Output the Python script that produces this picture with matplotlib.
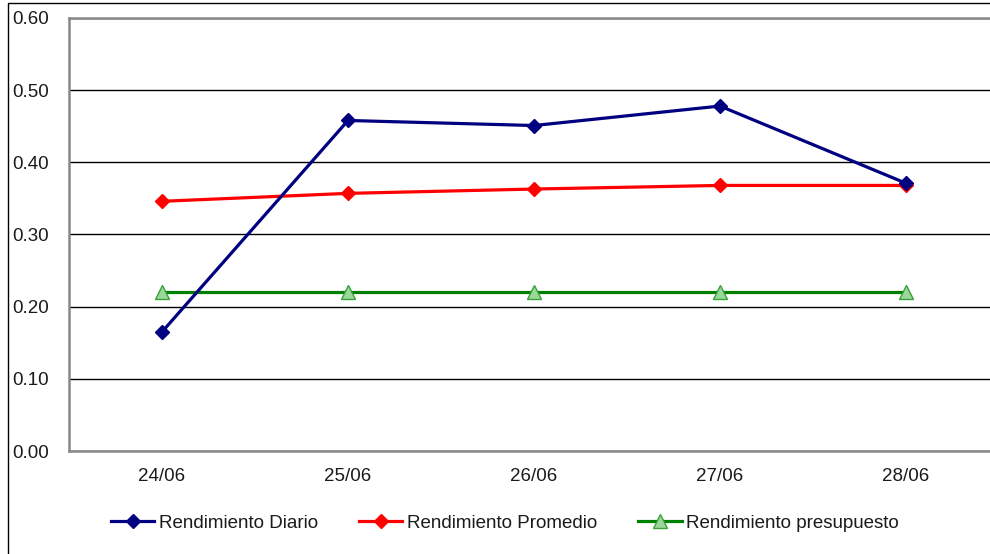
import matplotlib
matplotlib.use("Agg")
import matplotlib.pyplot as plt
from matplotlib.patches import Rectangle

plt.rcParams['font.family'] = ['Liberation Sans', 'DejaVu Sans']

# daily figures
fechas = ['24/06', '25/06', '26/06', '27/06', '28/06']
rend_diario = [0.165, 0.458, 0.451, 0.478, 0.371]
rend_promedio = [0.346, 0.357, 0.363, 0.368, 0.368]
rend_presupuesto = [0.220, 0.220, 0.220, 0.220, 0.220]
yticks = [0.0, 0.1, 0.2, 0.3, 0.4, 0.5, 0.6]
ytick_labels = ['0.00', '0.10', '0.20', '0.30', '0.40', '0.50', '0.60']

W, H = 990, 554
fig = plt.figure(figsize=(W / 100, H / 100), dpi=100)

# outer chart frame (only left/top edges fall inside the image)
fig.patches.append(Rectangle((8 / W, -0.1), 1.2, 1 - 3 / H + 0.1,
                             transform=fig.transFigure, fill=False,
                             edgecolor='#000000', linewidth=1.0))

ax = fig.add_axes([69 / W, 1 - 451 / H, 930 / W, 433 / H])
x = range(len(fechas))

ax.plot(x, rend_diario, color='#000080', linewidth=2.3, marker='D',
        markersize=7.5, label='Rendimiento Diario', zorder=5)
ax.plot(x, rend_promedio, color='#ff0000', linewidth=2.3, marker='D',
        markersize=7.5, label='Rendimiento Promedio', zorder=4)
ax.plot(x, rend_presupuesto, color='#008000', linewidth=2.3, marker='^',
        markersize=10, markerfacecolor='#9ad89a', markeredgecolor='#3aa03a',
        markeredgewidth=1.0, label='Rendimiento presupuesto', zorder=3)

ax.set_xlim(-0.5, 4.5)
ax.set_ylim(0, 0.6)
ax.set_xticks(list(x))
ax.set_xticklabels(fechas)
ax.set_yticks(yticks)
ax.set_yticklabels(ytick_labels)

ax.tick_params(axis='both', length=0, labelsize=13.5, colors='#1a1a1a')
ax.tick_params(axis='x', pad=12)
ax.tick_params(axis='y', pad=41)
for lbl in ax.get_yticklabels():
    lbl.set_horizontalalignment('left')

ax.set_axisbelow(True)
ax.yaxis.grid(True, color='#000000', linewidth=1.0)
for side in ['left', 'top', 'bottom']:
    ax.spines[side].set_color('#888888')
    ax.spines[side].set_linewidth(1.8)
ax.spines['right'].set_visible(False)

fig.legend(loc='center', bbox_to_anchor=(505 / W, 1 - 523 / H), ncol=3,
           frameon=False, fontsize=13.5, handlelength=2.3, handletextpad=0.25,
           columnspacing=2.2, labelcolor='#1a1a1a')

fig.savefig('out.png', dpi=100)
